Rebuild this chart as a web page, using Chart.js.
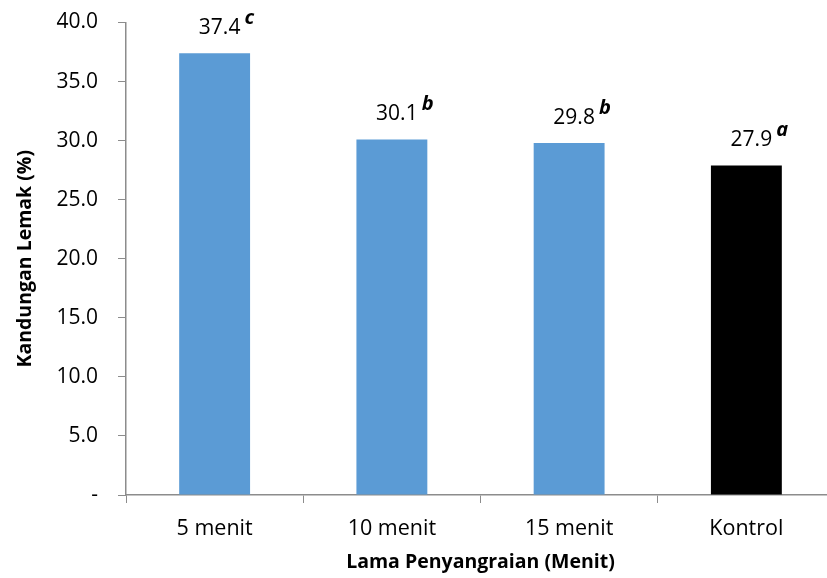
<!DOCTYPE html>
<html>
<head>
<meta charset="utf-8">
<script src="https://cdn.jsdelivr.net/npm/chart.js@4"></script>
<style>
  html, body { margin: 0; padding: 0; background: #fff; overflow: hidden; }
  #wrap { width: 835px; height: 578px; }
</style>
</head>
<body>
<div id="wrap"><canvas id="c" width="835" height="578"></canvas></div>
<script>
// Fat content by roasting time
const categories = ['5 menit', '10 menit', '15 menit', 'Kontrol'];
const fatContent = [37.4, 30.1, 29.8, 27.9];
const significance = ['c', 'b', 'b', 'a'];
const barColors = ['#5B9BD5', '#5B9BD5', '#5B9BD5', '#000000'];
const yTicks = [0, 5, 10, 15, 20, 25, 30, 35, 40];

const FONT = "'Open Sans', sans-serif";
const AXIS_GREY = '#8C8C8C';

// Value labels with a bold-italic significance letter raised at the right
const valueLabels = {
  id: 'valueLabels',
  afterDatasetsDraw(chart) {
    const ctx = chart.ctx;
    const meta = chart.getDatasetMeta(0);
    ctx.save();
    meta.data.forEach((bar, i) => {
      const txt = fatContent[i].toFixed(1);
      ctx.font = '21px ' + FONT;
      ctx.fillStyle = '#000';
      ctx.textAlign = 'center';
      ctx.textBaseline = 'middle';
      const cx = bar.x + 5;
      const cy = bar.y - 25;
      ctx.fillText(txt, cx, cy);
      const w = ctx.measureText(txt).width;
      ctx.font = 'italic bold 20px ' + FONT;
      ctx.textAlign = 'left';
      ctx.fillText(significance[i], cx + w / 2 + 4, cy - 10);
    });
    ctx.restore();
  }
};

new Chart(document.getElementById('c'), {
  type: 'bar',
  data: {
    labels: categories,
    datasets: [{
      data: fatContent,
      backgroundColor: barColors,
      borderWidth: 0,
      barPercentage: 0.4,
      categoryPercentage: 1.0
    }]
  },
  options: {
    responsive: false,
    animation: false,
    layout: { padding: { top: 22.5, right: 0, left: 10, bottom: 0 } },
    plugins: {
      legend: { display: false },
      tooltip: { enabled: false }
    },
    scales: {
      x: {
        grid: {
          offset: true,
          drawOnChartArea: false,
          drawTicks: true,
          tickLength: 8,
          color: AXIS_GREY,
          lineWidth: 1
        },
        border: { color: AXIS_GREY, width: 1.5 },
        ticks: {
          color: '#000',
          font: { family: FONT, size: 21.5 },
          padding: 13
        },
        title: {
          display: true,
          text: 'Lama Penyangraian (Menit)',
          color: '#000',
          font: { family: FONT, size: 19.5, weight: 'bold' },
          padding: { top: 2 }
        },
        afterFit(scale) { scale.height = 83; }
      },
      y: {
        min: 0,
        max: 40,
        afterBuildTicks(scale) { scale.ticks = yTicks.map(v => ({ value: v })); },
        grid: {
          drawOnChartArea: false,
          drawTicks: true,
          tickLength: 8,
          color: AXIS_GREY,
          lineWidth: 1
        },
        border: { color: AXIS_GREY, width: 1.5 },
        ticks: {
          color: '#000',
          font: { family: FONT, size: 21 },
          padding: 20,
          callback: v => (v === 0 ? '-' : Number(v).toFixed(1))
        },
        title: {
          display: true,
          text: 'Kandungan Lemak (%)',
          color: '#000',
          font: { family: FONT, size: 19.5, weight: 'bold' },
          padding: { bottom: 4 }
        },
        afterFit(scale) {
          scale.width = 116;
          scale.paddingTop = 0;
          scale.paddingBottom = 0;
        }
      }
    }
  },
  plugins: [valueLabels]
});
</script>
</body>
</html>
